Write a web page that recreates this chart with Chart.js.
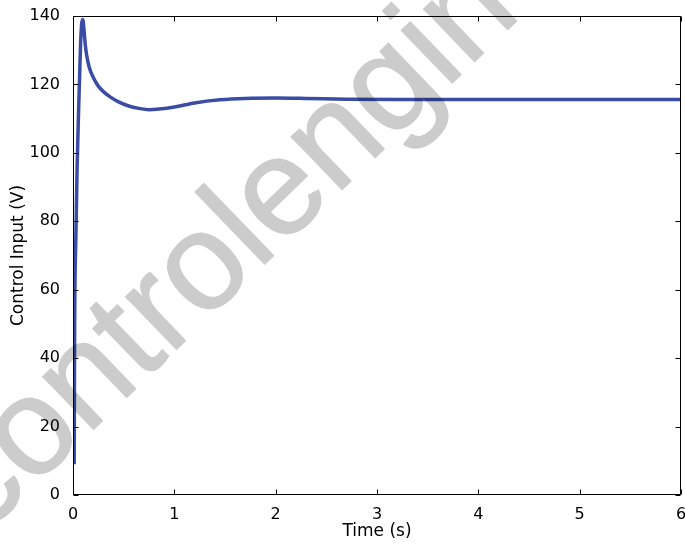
<!DOCTYPE html>
<html><head><meta charset="utf-8">
<script src="https://cdn.jsdelivr.net/npm/chart.js@4/dist/chart.umd.min.js"></script>
<style>html,body{margin:0;padding:0;background:#fff;overflow:hidden}#wrap{width:685px;height:548px}</style>
</head><body><div id="wrap"><canvas id="c" width="685" height="548"></canvas></div>
<script>
// ---- data ----
const timeS = [0.012, 0.016, 0.028, 0.04, 0.055, 0.065, 0.075, 0.085, 0.093, 0.1, 0.11, 0.12, 0.135, 0.16, 0.2, 0.25, 0.3, 0.37, 0.45, 0.55, 0.65, 0.75, 0.85, 1.0, 1.2, 1.45, 1.7, 2.0, 2.3, 2.7, 3.2, 4.0, 5.0, 6.0];
const controlV = [9, 48, 75, 95, 112, 122, 132, 137.5, 139, 138.5, 135.5, 132, 128.5, 125, 122, 119.5, 117.9, 116.3, 114.9, 113.7, 113.0, 112.6, 112.8, 113.4, 114.6, 115.5, 115.9, 116.0, 115.9, 115.7, 115.6, 115.6, 115.6, 115.6];
const xTicks = [0, 1, 2, 3, 4, 5, 6];
const yTicks = [0, 20, 40, 60, 80, 100, 120, 140];
const xTitle = 'Time (s)';
const yTitle = 'Control Input (V)';
const watermarkText = 'controlengineers.ir';

const FONT = '"DejaVu Sans", Verdana, sans-serif';
const WM_FONT = '"Liberation Sans", Arial, sans-serif';

const boxPlugin = {
  id: 'box',
  afterDatasetsDraw(chart) {
    const {ctx, chartArea: a, scales: {x, y}} = chart;
    ctx.save();
    ctx.strokeStyle = '#000';
    ctx.lineWidth = 1;
    const L = Math.round(a.left) + 0.5, R = Math.round(a.right) - 0.5;
    const T = Math.round(a.top) + 0.5, B = Math.round(a.bottom) - 0.5;
    ctx.beginPath();
    ctx.rect(L, T, R - L, B - T);
    const tl = 5;
    xTicks.forEach(v => {
      const px = Math.round(x.getPixelForValue(v)) + 0.5;
      ctx.moveTo(px, B); ctx.lineTo(px, B - tl);
      ctx.moveTo(px, T); ctx.lineTo(px, T + tl);
    });
    yTicks.forEach(v => {
      const py = Math.round(y.getPixelForValue(v)) + 0.5;
      ctx.moveTo(L, py); ctx.lineTo(L + tl, py);
      ctx.moveTo(R, py); ctx.lineTo(R - tl, py);
    });
    ctx.stroke();
    ctx.restore();
  }
};

const watermarkPlugin = {
  id: 'watermark',
  afterDraw(chart) {
    const {ctx, width, height} = chart;
    const off = document.createElement('canvas');
    off.width = width; off.height = height;
    const o = off.getContext('2d');
    o.fillStyle = '#cccccc';
    o.strokeStyle = '#cccccc';
    o.lineWidth = 1.5;
    o.lineJoin = 'round';
    o.font = '138px ' + WM_FONT;
    o.textBaseline = 'alphabetic';
    o.textAlign = 'left';
    o.translate(-18, 537);
    o.rotate(-44 * Math.PI / 180);
    o.fillText(watermarkText, 0, 0);
    o.strokeText(watermarkText, 0, 0);
    ctx.save();
    ctx.globalCompositeOperation = 'multiply';
    ctx.drawImage(off, 0, 0);
    ctx.restore();
  }
};

new Chart(document.getElementById('c'), {
  type: 'line',
  data: {
    datasets: [{
      data: timeS.map((t, i) => ({x: t, y: controlV[i]})),
      borderColor: '#3a4ca6',
      borderWidth: 3.5,
      pointRadius: 0,
      fill: false,
      cubicInterpolationMode: 'monotone'
    }]
  },
  options: {
    responsive: false,
    animation: false,
    devicePixelRatio: 1,
    layout: {padding: {left: 0, right: 4, top: 16, bottom: 0}},
    plugins: {legend: {display: false}, tooltip: {enabled: false}},
    scales: {
      x: {
        type: 'linear', min: 0, max: 6,
        afterBuildTicks: s => { s.ticks = xTicks.map(v => ({value: v})); },
        afterFit: s => { s.height = 53; s.paddingLeft = 0; s.paddingRight = 0; },
        grid: {display: false},
        border: {display: false},
        ticks: {color: '#000', font: {family: FONT, size: 16}, padding: 2, maxRotation: 0, autoSkip: false},
        title: {display: true, text: xTitle, color: '#000', font: {family: FONT, size: 17}, padding: {top: 0, bottom: 6}}
      },
      y: {
        type: 'linear', min: 0, max: 140,
        afterBuildTicks: s => { s.ticks = yTicks.map(v => ({value: v})); },
        afterFit: s => { s.width = 73; s.paddingTop = 0; s.paddingBottom = 0; },
        grid: {display: false},
        border: {display: false},
        ticks: {color: '#000', font: {family: FONT, size: 16}, padding: 5, autoSkip: false},
        title: {display: true, text: yTitle, color: '#000', font: {family: FONT, size: 17}, padding: {top: 8, bottom: 0}}
      }
    }
  },
  plugins: [boxPlugin, watermarkPlugin]
});
</script>
</body></html>
